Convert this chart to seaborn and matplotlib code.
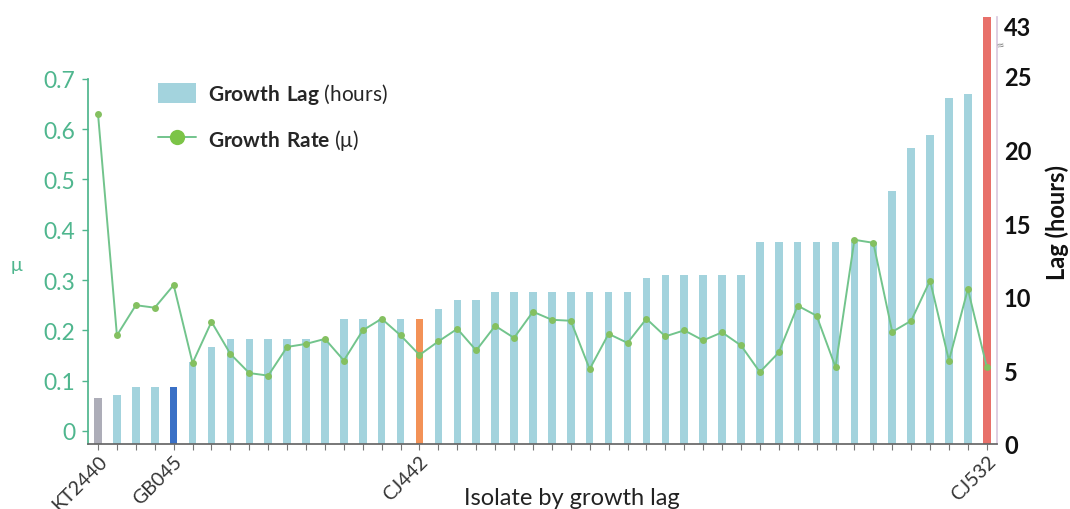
import numpy as np
import pandas as pd
import matplotlib
matplotlib.use("Agg")
import matplotlib.pyplot as plt
import seaborn as sns
from matplotlib.patches import Patch
from matplotlib.lines import Line2D

# ------------------------------
# 1. Data: isolates ranked by growth lag
# ------------------------------
lag_hours = [3.1, 3.3, 3.9, 3.9, 3.9, 5.6, 6.6,
             7.1, 7.1, 7.1, 7.1, 7.1, 7.1,
             8.5, 8.5, 8.5, 8.5, 8.5, 9.2, 9.8, 9.8,
             10.3, 10.3, 10.3, 10.3, 10.3, 10.3, 10.3, 10.3,
             11.3, 11.5, 11.5, 11.5, 11.5, 11.5,
             13.7, 13.7, 13.7, 13.7, 13.7, 13.7, 13.7,
             17.2, 20.1, 21.0, 23.5, 23.8, 43]

growth_rate = [0.63, 0.19, 0.25, 0.245, 0.29, 0.135, 0.217, 0.153, 0.115, 0.11,
               0.167, 0.173, 0.183, 0.14, 0.20, 0.223, 0.19, 0.151, 0.178, 0.203,
               0.16, 0.209, 0.185, 0.237, 0.221, 0.219, 0.123, 0.193, 0.175, 0.223,
               0.188, 0.20, 0.18, 0.196, 0.17, 0.117, 0.156, 0.249, 0.229, 0.127,
               0.38, 0.374, 0.197, 0.219, 0.299, 0.14, 0.282, 0.127]

isolate_labels = (["KT2440", "", "", "", "GB045"] + [""] * 12 + ["CJ442"]
                  + [""] * 29 + ["CJ532"])

mu_ticks = [0, 0.1, 0.2, 0.3, 0.4, 0.5, 0.6, 0.7]
mu_ticklabels = ["0", "0.1", "0.2", "0.3", "0.4", "0.5", "0.6", "0.7"]
lag_ticks = [0, 5, 10, 15, 20, 25]
lag_break_label = "43"

# ------------------------------
# 2. Colours
# ------------------------------
bar_default = "#a3d3dd"
highlight_colors = {"KT2440": "#adadb8", "GB045": "#3a70c6",
                    "CJ442": "#f39257", "CJ532": "#e8706a"}
mu_color = "#4fb68e"
line_color = "#72c48c"
marker_color = "#84c060"

df = pd.DataFrame({"rank": np.arange(len(lag_hours)),
                   "lag": lag_hours,
                   "mu": growth_rate,
                   "label": isolate_labels})
bar_colors = [highlight_colors.get(l, bar_default) for l in df["label"]]

# ------------------------------
# 3. Plot
# ------------------------------
sns.set_theme(style="white")
plt.rcParams["font.family"] = ["Lato", "DejaVu Sans"]
plt.rcParams["mathtext.fontset"] = "custom"
plt.rcParams["mathtext.rm"] = "Lato"
plt.rcParams["mathtext.bf"] = "Lato:bold"

fig = plt.figure(figsize=(10.7, 5.1), dpi=100)
ax = fig.add_axes([88 / 1070, 1 - 445 / 510, 909 / 1070, 427 / 510])
ax2 = ax.twinx()

sns.barplot(data=df, x="rank", y="lag", hue="rank", palette=bar_colors,
            legend=False, width=0.4, saturation=1, linewidth=0, ax=ax2)
sns.lineplot(data=df, x="rank", y="mu", ax=ax, color=line_color, linewidth=1.4,
             marker="o", markersize=5, markerfacecolor=marker_color,
             markeredgewidth=0)

ax.set_zorder(ax2.get_zorder() + 1)
ax.patch.set_visible(False)

n = len(df)
ax.set_xlim(-0.53, n - 0.46)

# left axis (growth rate)
ax.set_ylim(-0.026, 0.823)
ax.set_yticks(mu_ticks)
ax.set_yticklabels(mu_ticklabels)
ax.tick_params(axis="y", colors=mu_color, labelsize=16.5, length=4, width=1, pad=5)
ax.set_ylabel("μ", color=mu_color, fontsize=14, rotation=0)
ax.yaxis.set_label_coords(-0.079, 0.40)
ax.spines["left"].set_color(mu_color)
ax.spines["left"].set_bounds(-0.026, 0.7)
ax.spines["top"].set_visible(False)
ax.spines["right"].set_visible(False)
ax.spines["bottom"].set_color("#666666")

# x axis
ax.set_xticks(df["rank"])
ax.set_xticklabels(df["label"], rotation=45, ha="right", rotation_mode="anchor",
                   fontsize=14, color="#333333")
ax.tick_params(axis="x", length=4, width=0.8, color="#777777", pad=2,
               bottom=True)
ax.set_xlabel("Isolate by growth lag", fontsize=17, color="#222222")
ax.xaxis.set_label_coords(0.532, -0.101)

# right axis (growth lag)
ax2.set_ylim(0, 29)
ax2.set_yticks(lag_ticks + [28.4])
ax2.set_yticklabels([str(t) for t in lag_ticks] + [lag_break_label])
ax2.tick_params(axis="y", labelsize=17, length=0, pad=5, colors="#111111")
for t in ax2.get_yticklabels():
    t.set_fontweight("bold")
ax2.set_ylabel("Lag (hours)", fontsize=17, fontweight="bold", color="#111111")
ax2.yaxis.set_label_coords(1.053, 0.52)
for s in ["left", "top", "bottom"]:
    ax2.spines[s].set_visible(False)
ax2.spines["right"].set_color("#d9c9df")
ax2.text(1.004, 27.1, "≈", transform=ax2.get_yaxis_transform(), ha="center",
         va="center", fontsize=11, color="#888888", rotation=15)

# legend
handles = [Patch(facecolor=bar_default, edgecolor="none"),
           Line2D([0], [0], color=line_color, linewidth=1.4, marker="o",
                  markersize=11, markerfacecolor="#7cc447", markeredgewidth=0)]
labels = [r"$\bf{Growth\ Lag}$ (hours)", r"$\bf{Growth\ Rate}$ (μ)"]
fig.legend(handles, labels, loc="upper left",
           bbox_to_anchor=(158 / 1070, 1 - 82 / 510), frameon=False,
           fontsize=15, handlelength=1.8, handleheight=1.15,
           labelspacing=1.0, handletextpad=0.6, borderpad=0,
           borderaxespad=0)

fig.savefig("out.png", dpi=100)
